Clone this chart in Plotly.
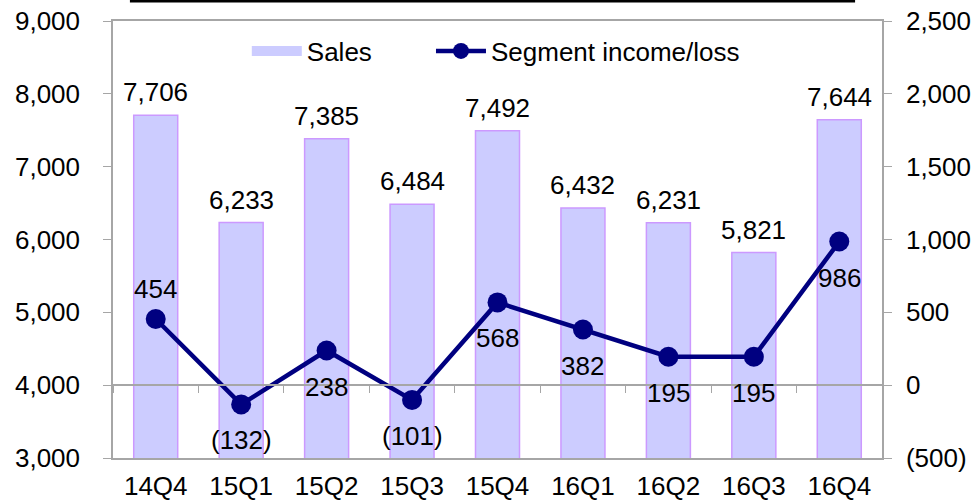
import plotly.graph_objects as go

quarters = ["14Q4", "15Q1", "15Q2", "15Q3", "15Q4", "16Q1", "16Q2", "16Q3", "16Q4"]
sales = [7706, 6233, 7385, 6484, 7492, 6432, 6231, 5821, 7644]
income = [454, -132, 238, -101, 568, 382, 195, 195, 986]

left_ticks = [3000, 4000, 5000, 6000, 7000, 8000, 9000]
right_ticks = [-500, 0, 500, 1000, 1500, 2000, 2500]
right_labels = ["(500)", "0", "500", "1,000", "1,500", "2,000", "2,500"]


def fmt(v):
    return f"({abs(v):,})" if v < 0 else f"{v:,}"


FONT = "Liberation Sans, Arial, sans-serif"
GRAY = "#a6a6a6"
BAR_FILL = "#ccccff"
BAR_EDGE = "#cc99ff"
NAVY = "#000080"

income_above = [True] + [False] * (len(income) - 1)

fig = go.Figure()
fig.add_trace(go.Bar(
    x=quarters, y=sales, name="Sales", showlegend=False,
    marker=dict(color=BAR_FILL, line=dict(color=BAR_EDGE, width=1.5)),
    xaxis="x", yaxis="y", hoverinfo="skip",
))
# legend swatch for Sales
fig.add_trace(go.Scatter(
    x=[None], y=[None], name="Sales", mode="lines", legend="legend",
    line=dict(color=BAR_FILL, width=11), xaxis="x", yaxis="y",
))
fig.add_trace(go.Scatter(
    x=quarters, y=income, name="Segment income/loss", legend="legend2",
    mode="lines+markers",
    line=dict(color=NAVY, width=4.5),
    marker=dict(color=NAVY, size=20),
    cliponaxis=False, xaxis="x2", yaxis="y2", hoverinfo="skip",
))

annotations = []
for q, v in zip(quarters, sales):
    annotations.append(dict(x=q, y=v, xref="x", yref="y", text=fmt(v),
                            showarrow=False, yanchor="middle", yshift=23,
                            font=dict(size=26, color="black", family=FONT)))
for q, v, up in zip(quarters, income, income_above):
    annotations.append(dict(x=q, y=v, xref="x2", yref="y2", text=fmt(v),
                            showarrow=False, yanchor="middle",
                            yshift=30 if up else -36,
                            font=dict(size=26, color="black", family=FONT)))

legend_style = dict(orientation="h", yanchor="top", xanchor="left", y=0.985,
                    bgcolor="rgba(0,0,0,0)", font=dict(size=26, family=FONT),
                    itemwidth=50)

fig.update_layout(
    width=978, height=503,
    margin=dict(l=113, r=96, t=21, b=45, autoexpand=False),
    paper_bgcolor="white", plot_bgcolor="white",
    font=dict(family=FONT, size=26, color="black"),
    bargap=0.485,
    showlegend=True,
    legend=dict(x=0.174, **legend_style),
    legend2=dict(x=0.4135, **legend_style),
    annotations=annotations,
    xaxis=dict(type="category", range=[-0.5, 8.5], showline=True, linecolor=GRAY,
               linewidth=1.5, mirror=True, ticks="", showgrid=False, automargin=False,
               tickfont=dict(size=26), ticklabelstandoff=4, anchor="y"),
    xaxis2=dict(type="category", range=[-0.5, 8.5], overlaying="x", anchor="free",
                position=1/6, showline=True, linecolor=GRAY, linewidth=1.5,
                ticks="outside", tickson="boundaries", ticklen=7, tickcolor=GRAY,
                showticklabels=False, showgrid=False, zeroline=False, automargin=False),
    yaxis=dict(range=[3000, 9000], tickvals=left_ticks, tickformat=",",
               showline=True, linecolor=GRAY, linewidth=1.5, ticks="outside",
               ticklen=8, tickcolor=GRAY, showgrid=False, zeroline=False, automargin=False,
               ticklabelstandoff=18, tickfont=dict(size=26)),
    yaxis2=dict(range=[-500, 2500], overlaying="y", side="right", anchor="x",
                tickvals=right_ticks, ticktext=right_labels, automargin=False,
                showline=True, linecolor=GRAY, linewidth=1.5, ticks="outside",
                ticklen=8, tickcolor=GRAY, showgrid=False, zeroline=False,
                ticklabelstandoff=9, tickfont=dict(size=26)),
    shapes=[dict(type="line", xref="paper", yref="paper", x0=0.022, x1=0.965,
                 y0=1.045, y1=1.045, line=dict(color="black", width=2.5))],
)

fig.write_html(
    "out.html",
    config={"displayModeBar": False},
    post_script="document.body.style.margin='0';document.body.style.overflow='hidden';",
)
